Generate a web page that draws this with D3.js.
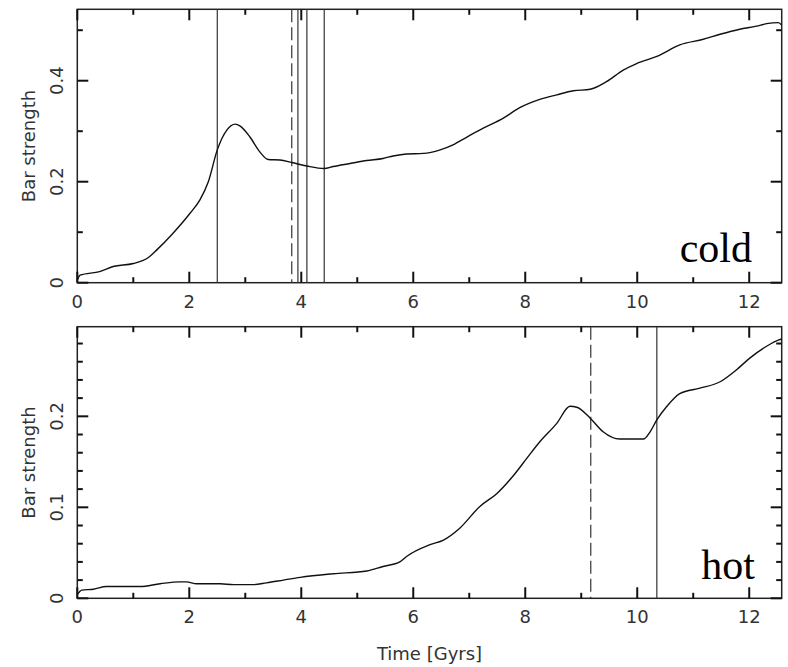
<!DOCTYPE html>
<html>
<head>
<meta charset="utf-8">
<script src="https://cdn.jsdelivr.net/npm/d3@7"></script>
<style>
  body { margin: 0; background: #fff; }
  svg text { font-family: "DejaVu Sans", sans-serif; fill: #333; }
</style>
</head>
<body>
<div id="chart"></div>
<script>
// time [Gyrs] and bar strength
var coldTime = [0, 0.05, 0.4, 0.64, 1.0, 1.27, 1.42, 1.71, 2.01, 2.19, 2.34, 2.5, 2.67, 2.82, 2.91, 3.08, 3.26, 3.41, 3.62, 3.83, 4.1, 4.41, 4.57, 4.87, 5.17, 5.46, 5.64, 5.88, 6.18, 6.48, 6.71, 6.95, 7.25, 7.61, 7.91, 8.26, 8.56, 8.86, 9.16, 9.45, 9.75, 9.99, 10.35, 10.76, 11.18, 11.48, 11.83, 12.13, 12.31, 12.52, 12.58];
var coldBar  = [0.005, 0.015, 0.022, 0.032, 0.038, 0.05, 0.065, 0.098, 0.137, 0.164, 0.2, 0.263, 0.302, 0.314, 0.31, 0.289, 0.259, 0.244, 0.243, 0.238, 0.231, 0.226, 0.23, 0.236, 0.242, 0.246, 0.251, 0.255, 0.256, 0.263, 0.273, 0.288, 0.306, 0.326, 0.347, 0.363, 0.372, 0.38, 0.383, 0.398, 0.421, 0.434, 0.448, 0.471, 0.482, 0.492, 0.502, 0.508, 0.513, 0.515, 0.51];

var hotTime = [0, 0.08, 0.29, 0.52, 1.12, 1.48, 1.83, 1.95, 2.13, 2.55, 2.79, 3.14, 3.38, 3.68, 3.98, 4.57, 5.17, 5.46, 5.76, 5.88, 6.3, 6.54, 6.83, 7.19, 7.49, 7.79, 8.03, 8.26, 8.56, 8.8, 8.92, 9.16, 9.39, 9.69, 10.11, 10.23, 10.35, 10.53, 10.76, 11.12, 11.48, 11.77, 12.01, 12.31, 12.53, 12.58];
var hotBar  = [0.004, 0.009, 0.01, 0.013, 0.013, 0.016, 0.018, 0.018, 0.016, 0.016, 0.015, 0.015, 0.017, 0.02, 0.023, 0.027, 0.03, 0.035, 0.04, 0.046, 0.059, 0.064, 0.077, 0.101, 0.115, 0.135, 0.154, 0.172, 0.192, 0.211, 0.21, 0.198, 0.183, 0.175, 0.175, 0.183, 0.196, 0.211, 0.225, 0.231, 0.238, 0.251, 0.264, 0.277, 0.284, 0.285];

// vertical markers
var coldSolid = [2.5, 3.94, 4.1, 4.41];
var coldDashed = [3.83];
var hotSolid = [10.35];
var hotDashed = [9.17];

var xTicks = [0, 2, 4, 6, 8, 10, 12];
var xMinorTicks = [1, 3, 5, 7, 9, 11];
var coldTicks = [0, 0.2, 0.4];
var coldMinorTicks = [0.1, 0.3, 0.5];
var hotTicks = [0, 0.1, 0.2];
var hotMinorTicks = [0.02, 0.04, 0.06, 0.08, 0.12, 0.14, 0.16, 0.18, 0.22, 0.24, 0.26, 0.28];

const width = 788, height = 667;
const left = 77.3, right = 781.7;

const svg = d3.select("#chart").append("svg")
  .attr("width", width)
  .attr("height", height);

function tickLines(g, vals, len, side, x, y, p) {
  vals.forEach(function(v) {
    var x1, x2, y1, y2;
    if (side === "b") { x1 = x2 = x(v); y1 = p.bottom; y2 = p.bottom - len; }
    if (side === "t") { x1 = x2 = x(v); y1 = p.top; y2 = p.top + len; }
    if (side === "l") { y1 = y2 = y(v); x1 = left; x2 = left + len; }
    if (side === "r") { y1 = y2 = y(v); x1 = right; x2 = right - len; }
    g.append("line")
      .attr("x1", x1).attr("x2", x2).attr("y1", y1).attr("y2", y2)
      .attr("stroke", "#111").attr("stroke-width", 2);
  });
}

function drawPanel(p) {
  const x = d3.scaleLinear().domain([0, 12.58]).range([left, right]);
  const y = d3.scaleLinear().domain([0, p.yMax]).range([p.bottom, p.top]);
  const g = svg.append("g");

  // frame
  g.append("rect")
    .attr("x", left).attr("y", p.top)
    .attr("width", right - left).attr("height", p.bottom - p.top)
    .attr("fill", "none").attr("stroke", "#222").attr("stroke-width", 1.5);

  // ticks on all four sides, pointing inward
  ["b", "t"].forEach(function(s) {
    tickLines(g, xTicks, 11, s, x, y, p);
    tickLines(g, xMinorTicks, 5.5, s, x, y, p);
  });
  ["l", "r"].forEach(function(s) {
    tickLines(g, p.yTicks, 11, s, x, y, p);
    tickLines(g, p.yMinor, 5.5, s, x, y, p);
  });

  // tick labels
  g.selectAll(".xlab").data(xTicks).enter().append("text")
    .attr("x", d => x(d))
    .attr("y", p.bottom + 25)
    .attr("text-anchor", "middle")
    .attr("font-size", 18)
    .text(d => d);
  g.selectAll(".ylab").data(p.yTicks).enter().append("text")
    .attr("transform", d => "translate(63," + y(d) + ") rotate(-90)")
    .attr("text-anchor", "middle")
    .attr("font-size", 18)
    .text(d => String(d));

  g.append("text")
    .attr("transform", "translate(35," + ((p.top + p.bottom) / 2) + ") rotate(-90)")
    .attr("text-anchor", "middle")
    .attr("font-size", 18)
    .text("Bar strength");

  // vertical markers
  g.selectAll(".vs").data(p.solid).enter().append("line")
    .attr("x1", d => x(d)).attr("x2", d => x(d))
    .attr("y1", p.top).attr("y2", p.bottom)
    .attr("stroke", "#333").attr("stroke-width", 1.2);
  g.selectAll(".vd").data(p.dashed).enter().append("line")
    .attr("x1", d => x(d)).attr("x2", d => x(d))
    .attr("y1", p.top).attr("y2", p.bottom)
    .attr("stroke", "#333").attr("stroke-width", 1.2)
    .attr("stroke-dasharray", "13,5");

  // curve
  const line = d3.line()
    .x((d, i) => x(p.time[i]))
    .y(d => y(d))
    .curve(d3.curveMonotoneX);
  g.append("path")
    .datum(p.bar)
    .attr("d", line)
    .attr("fill", "none")
    .attr("stroke", "#111")
    .attr("stroke-width", 1.4);

  g.append("text")
    .attr("x", p.labelX).attr("y", p.labelY)
    .attr("text-anchor", "end")
    .style("font-family", "'Liberation Serif', serif")
    .attr("font-size", 42)
    .style("fill", "#000")
    .text(p.label);
}

drawPanel({ top: 9.3, bottom: 282.7, yMax: 0.5414, yTicks: coldTicks, yMinor: coldMinorTicks,
  time: coldTime, bar: coldBar, solid: coldSolid, dashed: coldDashed,
  label: "cold", labelX: 752, labelY: 262 });
drawPanel({ top: 326.7, bottom: 598.3, yMax: 0.2985, yTicks: hotTicks, yMinor: hotMinorTicks,
  time: hotTime, bar: hotBar, solid: hotSolid, dashed: hotDashed,
  label: "hot", labelX: 755, labelY: 579 });

svg.append("text")
  .attr("x", (left + right) / 2)
  .attr("y", 660)
  .attr("text-anchor", "middle")
  .attr("font-size", 18)
  .text("Time [Gyrs]");
</script>
</body>
</html>
